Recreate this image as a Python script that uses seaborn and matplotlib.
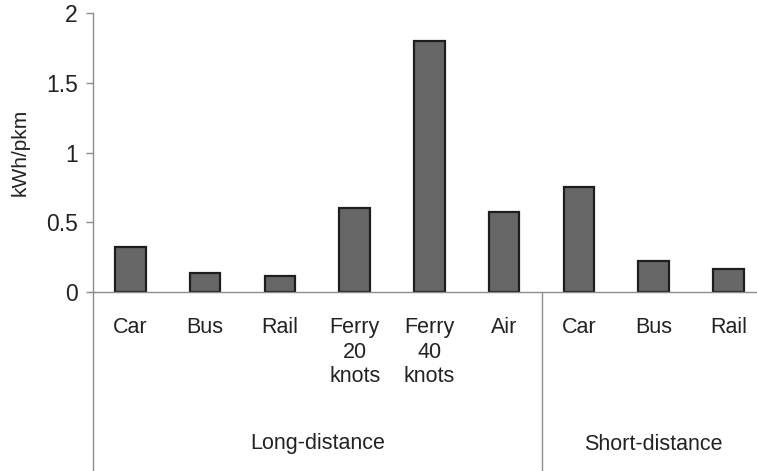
import matplotlib
matplotlib.use("Agg")
import matplotlib.pyplot as plt
import matplotlib.transforms as mtransforms
import seaborn as sns
import pandas as pd

# Data
groups = ["Long-distance", "Long-distance", "Long-distance", "Long-distance",
          "Long-distance", "Long-distance", "Short-distance", "Short-distance",
          "Short-distance"]
modes = ["Car", "Bus", "Rail", "Ferry\n20\nknots", "Ferry\n40\nknots", "Air",
         "Car", "Bus", "Rail"]
values = [0.325, 0.135, 0.115, 0.60, 1.80, 0.573, 0.75, 0.22, 0.165]
yticks = [0, 0.5, 1, 1.5, 2]
ytick_labels = ["0", "0.5", "1", "1.5", "2"]
group_names = ["Long-distance", "Short-distance"]

sns.set_style("white")
plt.rcParams["font.family"] = ["Liberation Sans", "DejaVu Sans"]

keys = [f"{g}|{i}" for i, g in enumerate(groups)]
df = pd.DataFrame({"key": keys, "value": values})

W, H = 757, 471
fig = plt.figure(figsize=(W / 100, H / 100), dpi=100)
ax = fig.add_axes([93 / W, (H - 292) / H, (W - 93) / W, (292 - 13) / H])

sns.barplot(data=df, x="key", y="value", order=keys, color="#676767",
            saturation=1, width=0.41, edgecolor="#1e1e1e", linewidth=1.6,
            ax=ax)

ax.set_xlim(-0.5, -0.5 + (W - 93) / 74.75)
ax.set_ylim(0, 2)
ax.set_yticks(yticks)
ax.set_yticklabels(ytick_labels)
ax.set_xticks(range(len(modes)))
ax.set_xticklabels(modes, linespacing=1.22)
ax.set_xlabel("")
ax.set_ylabel("kWh/pkm", fontsize=15, color="#222222", labelpad=12)

spine_col = "#8c8c8c"
for s in ["top", "right"]:
    ax.spines[s].set_visible(False)
for s in ["left", "bottom"]:
    ax.spines[s].set_color(spine_col)
    ax.spines[s].set_linewidth(1.0)

ax.tick_params(axis="y", which="both", left=True, length=5, width=1.0,
               color=spine_col, labelsize=16.5, labelcolor="#222222", pad=6)
ax.tick_params(axis="x", length=0, labelsize=15.5, labelcolor="#222222", pad=18)
for lbl in ax.get_xticklabels():
    lbl.set_verticalalignment("top")

trans = mtransforms.blended_transform_factory(ax.transData, ax.transAxes)
ybot = -(H - 292) / (292 - 13) - 0.01
for xpos in [-0.5, 5.5]:
    ax.plot([xpos, xpos], [0, ybot], transform=trans, color=spine_col,
            lw=1.0, clip_on=False)

ylab = -(444 - 292) / (292 - 13)
ax.text(2.5, ylab, group_names[0], transform=trans, ha="center", va="center",
        fontsize=15.5, color="#222222")
ax.text(7.0, ylab, group_names[1], transform=trans, ha="center", va="center",
        fontsize=15.5, color="#222222")

fig.savefig("out.png", dpi=100)
